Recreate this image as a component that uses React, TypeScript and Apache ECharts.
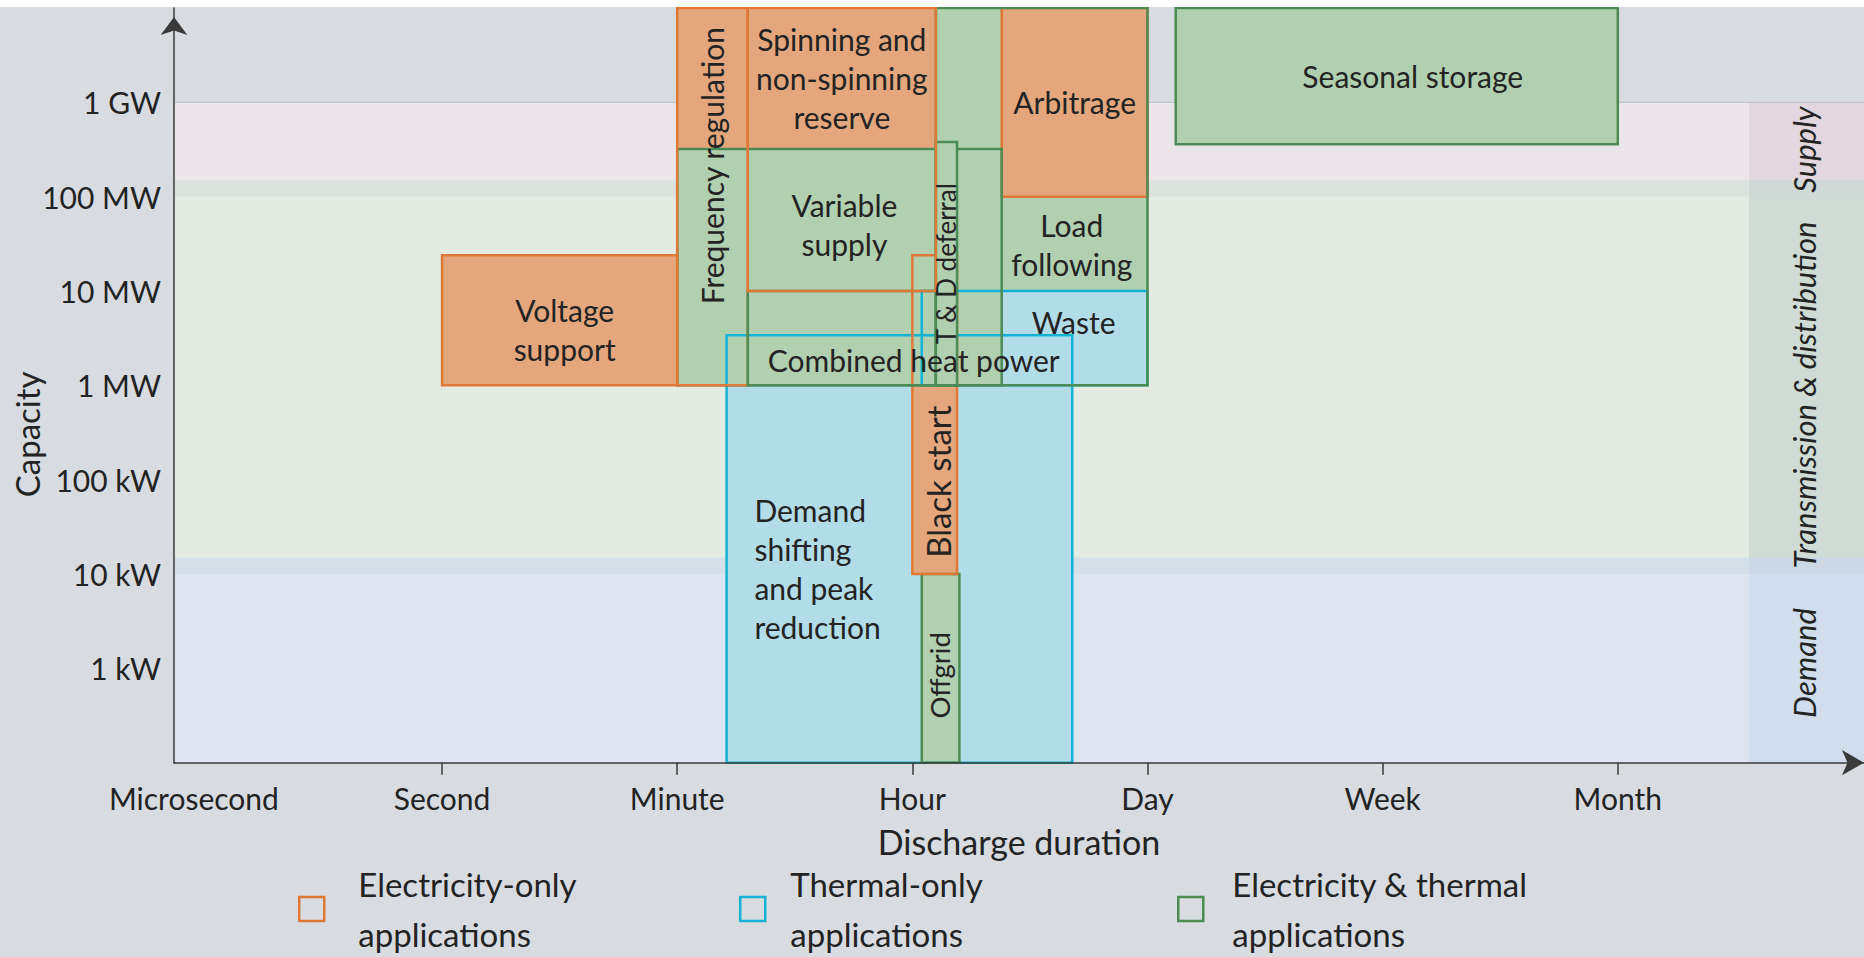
import React, { useEffect, useRef } from "react";
import * as echarts from "echarts";

// ---------- data ----------
// Discharge duration axis: tick index units (0 = Microsecond ... 6 = Month)
const DURATION_TICKS = ["Microsecond", "Second", "Minute", "Hour", "Day", "Week", "Month"];
// Capacity axis labels for 1e3 .. 1e9 W
const CAPACITY_TICKS = ["1 kW", "10 kW", "100 kW", "1 MW", "10 MW", "100 MW", "1 GW"];

const X_MIN = -0.14;
const X_MAX = 7.047;
const Y_MIN = 100;
const Y_MAX = 1e10;

const CATEGORY_NAMES = [
  "Electricity-only\napplications",
  "Thermal-only\napplications",
  "Electricity & thermal\napplications",
];

// value: [durationStart, durationEnd, capacityLow (W), capacityHigh (W)]
const ELECTRICITY_ONLY = [
  { id: "voltage", label: "Voltage\nsupport", value: [1, 2, 1e6, 2.4e7] },
  { id: "freq", label: "Frequency regulation", value: [2, 2.3, 1e6, 1e10] },
  { id: "spin", label: "Spinning and\nnon-spinning\nreserve", value: [2.3, 3.1, 1e7, 1e10] },
  { id: "arbitrage", label: "Arbitrage", value: [3.38, 4, 1e8, 1e10] },
  { id: "black", label: "Black start", value: [3.0, 3.19, 1e4, 2.4e7] },
];
const THERMAL_ONLY = [
  { id: "waste", label: "Waste", value: [3.04, 4, 1e6, 1e7] },
  { id: "demand", label: "Demand\nshifting\nand peak\nreduction", value: [2.21, 3.68, 100, 3.4e6] },
];
const ELECTRICITY_THERMAL = [
  { id: "seasonal", label: "Seasonal storage", value: [4.12, 6, 3.6e8, 1e10] },
  { id: "load", label: "Load\nfollowing", value: [3.1, 4, 1e6, 1e10] },
  { id: "variable", label: "Variable\nsupply", value: [2, 3.38, 1e6, 3.2e8] },
  { id: "chp", label: "Combined heat power", value: [2.3, 3.1, 1e6, 1e7] },
  { id: "td", label: "T & D deferral", value: [3.1, 3.19, 1e6, 3.8e8] },
  { id: "offgrid", label: "Offgrid", value: [3.04, 3.2, 100, 1e4] },
];

// grid zones: [capacityLow, capacityHigh]
const ZONES = [
  { id: "supply", label: "Supply", value: [1e8, 1e9] },
  { id: "td", label: "Transmission & distribution", value: [1e4, 1.5e8] },
  { id: "demand", label: "Demand", value: [100, 1.5e4] },
];

// ---------- styles ----------
const FONT = "Lato";
const TEXT = "#232323";
const AXIS = "#3a3a3a";
const BG = "#D8DCE1";
const COLUMN_W = 115;

const PALETTE: Record<string, { fill: string; line: string }> = {
  elec: { fill: "#E4A77D", line: "#E07838" },
  thermal: { fill: "#B2DCE8", line: "#14B3D5" },
  both: { fill: "#B1D0B0", line: "#4C8C54" },
};

const ZONE_COLORS: Record<string, { main: string; col: string }> = {
  supply: { main: "#ECE6EB", col: "#E2D7DE" },
  td: { main: "#E4EBE3", col: "#D0DBD6" },
  demand: { main: "#DFE5F0", col: "#D1DDEC" },
  "supply|td": { main: "#DCE3DF", col: "#D1D9D6" },
  "td|demand": { main: "#D5DFE7", col: "#CCD9E5" },
};
const ZONE_LABEL_DY: Record<string, number> = { supply: 0, td: 18, demand: 3 };

const LAYERS: [string, "fill" | "line"][] = [
  ["seasonal", "fill"],
  ["voltage", "fill"],
  ["freq", "fill"],
  ["spin", "fill"],
  ["load", "fill"],
  ["arbitrage", "fill"],
  ["waste", "fill"],
  ["demand", "fill"],
  ["black", "fill"],
  ["variable", "fill"],
  ["chp", "fill"],
  ["offgrid", "fill"],
  ["seasonal", "line"],
  ["voltage", "line"],
  ["demand", "line"],
  ["offgrid", "line"],
  ["black", "line"],
  ["waste", "line"],
  ["arbitrage", "line"],
  ["load", "line"],
  ["variable", "line"],
  ["freq", "line"],
  ["chp", "line"],
  ["td", "fill"],
  ["td", "line"],
  ["spin", "line"],
];
const layerZ = (id: string, part: string) =>
  20 + LAYERS.findIndex((l) => l[0] === id && l[1] === part);

const LABEL_POS: Record<
  string,
  { dx: number; dy: number; rotate?: boolean; align?: string; size?: number }
> = {
  voltage: { dx: 5, dy: 9 },
  freq: { dx: 0, dy: -31, rotate: true },
  spin: { dx: 0, dy: -72 },
  arbitrage: { dx: 0, dy: 0 },
  black: { dx: 3, dy: 67, rotate: true, size: 33 },
  waste: { dx: 39, dy: -16 },
  demand: { dx: -145, dy: 20, align: "left" },
  seasonal: { dx: 16, dy: 0 },
  load: { dx: 30, dy: 48 },
  variable: { dx: 5, dy: -43 },
  chp: { dx: 72, dy: 22 },
  td: { dx: 0, dy: 0, rotate: true, size: 26 },
  offgrid: { dx: -1, dy: 7, rotate: true, size: 27.5 },
};

const LEGEND_POS = [
  { left: 298, pad: 29, color: PALETTE.elec.line },
  { left: 739, pad: 20, color: PALETTE.thermal.line },
  { left: 1177, pad: 24, color: PALETTE.both.line },
];

function rectRenderer(items: any[], kind: string) {
  return (params: any, api: any) => {
    const item = items[params.dataIndex];
    const tl = api.coord([api.value(0), api.value(3)]);
    const br = api.coord([api.value(1), api.value(2)]);
    const shape = { x: tl[0], y: tl[1], width: br[0] - tl[0], height: br[1] - tl[1] };
    const pal = PALETTE[kind];
    const lp = LABEL_POS[item.id];
    const cx = shape.x + shape.width / 2 + lp.dx;
    const cy = shape.y + shape.height / 2 + lp.dy;
    return {
      type: "group",
      children: [
        {
          type: "rect",
          z2: layerZ(item.id, "fill"),
          shape,
          style: { fill: pal.fill, stroke: "none" },
        },
        {
          type: "rect",
          z2: layerZ(item.id, "line"),
          shape,
          style: { fill: "none", stroke: pal.line, lineWidth: 2.5 },
        },
        {
          type: "text",
          z2: 200,
          x: cx,
          y: cy,
          rotation: lp.rotate ? Math.PI / 2 : 0,
          style: {
            text: item.label,
            fill: TEXT,
            fontSize: lp.size || 30,
            fontFamily: FONT,
            lineHeight: 39,
            align: lp.align || "center",
            verticalAlign: "middle",
          },
        },
      ],
    };
  };
}

function zoneRenderer(items: any[]) {
  return (params: any, api: any) => {
    const item = items[params.dataIndex];
    const cs = params.coordSys;
    const top = api.coord([0, api.value(1)])[1];
    const bottom = api.coord([0, api.value(0)])[1];
    const colX = cs.x + cs.width - COLUMN_W;
    const colors = ZONE_COLORS[item.id];
    const children: any[] = [
      {
        type: "rect",
        shape: { x: cs.x, y: top, width: colX - cs.x, height: bottom - top },
        style: { fill: colors.main },
        z2: item.overlap ? 2 : 1,
      },
      {
        type: "rect",
        shape: { x: colX, y: top, width: cs.x + cs.width - colX, height: bottom - top },
        style: { fill: colors.col },
        z2: item.overlap ? 2 : 1,
      },
    ];
    if (!item.overlap) {
      if (params.dataIndex === 0) {
        children.push({
          type: "line",
          shape: { x1: cs.x, y1: top, x2: cs.x + cs.width, y2: top },
          style: { stroke: "#C3C6CB", lineWidth: 1.2 },
          z2: 3,
        });
      }
      children.push({
        type: "text",
        x: colX + COLUMN_W / 2 - 3,
        y: (top + bottom) / 2 + ZONE_LABEL_DY[item.id],
        rotation: Math.PI / 2,
        z2: 4,
        style: {
          text: item.label,
          fill: TEXT,
          fontSize: 31,
          fontFamily: FONT,
          fontStyle: "italic",
          align: "center",
          verticalAlign: "middle",
        },
      });
    }
    return { type: "group", children };
  };
}

export default function App() {
  const ref = useRef<HTMLDivElement>(null);
  useEffect(() => {
    if (!ref.current) return;
    const chart = echarts.init(ref.current, undefined, { renderer: "svg" });

    const overlaps = ZONES.slice(0, -1).map((z, i) => {
      const n = ZONES[i + 1];
      return {
        id: z.id + "|" + n.id,
        label: "",
        overlap: true,
        value: [Math.max(z.value[0], n.value[0]), Math.min(z.value[1], n.value[1])],
      };
    });
    const zoneItems = [...ZONES.map((z) => ({ ...z, overlap: false })), ...overlaps];

    const groups = [
      { name: CATEGORY_NAMES[0], items: ELECTRICITY_ONLY, kind: "elec" },
      { name: CATEGORY_NAMES[1], items: THERMAL_ONLY, kind: "thermal" },
      { name: CATEGORY_NAMES[2], items: ELECTRICITY_THERMAL, kind: "both" },
    ];

    const option: any = {
      animation: false,
      backgroundColor: BG,
      textStyle: { fontFamily: FONT },
      grid: {
        left: 174,
        right: 0,
        top: 1,
        bottom: 194.3,
        containLabel: false,
        outerBoundsMode: "none",
      },
      xAxis: {
        type: "value",
        min: X_MIN,
        max: X_MAX,
        z: 10,
        name: "Discharge duration",
        nameLocation: "middle",
        nameGap: 59,
        nameMoveOverlap: false,
        nameTextStyle: { fontSize: 34, color: TEXT, lineHeight: 40, fontFamily: FONT },
        axisLine: {
          show: true,
          onZero: false,
          symbol: ["none", "arrow"],
          symbolSize: [19, 22],
          lineStyle: { color: AXIS, width: 1.5 },
        },
        axisTick: {
          show: true,
          length: 12,
          customValues: [1, 2, 3, 4, 5, 6],
          lineStyle: { color: AXIS, width: 1.5 },
        },
        axisLabel: {
          customValues: [0, 1, 2, 3, 4, 5, 6],
          formatter: (v: number) => {
            const i = Math.round(v);
            const t = DURATION_TICKS[i] || "";
            return i === 0 ? "{m|" + t + "}" : t;
          },
          margin: 17,
          fontSize: 30,
          lineHeight: 36,
          color: TEXT,
          fontFamily: FONT,
          rich: { m: { fontSize: 30, fontFamily: FONT, color: TEXT, padding: [0, 26, 0, 0] } },
        },
        splitLine: { show: false },
      },
      yAxis: {
        type: "log",
        logBase: 10,
        min: Y_MIN,
        max: Y_MAX,
        splitNumber: 8,
        z: 10,
        name: "Capacity",
        nameLocation: "middle",
        nameGap: 127,
        nameMoveOverlap: false,
        nameTextStyle: {
          fontSize: 33,
          color: TEXT,
          lineHeight: 40,
          fontFamily: FONT,
          padding: [0, 98, 0, 0],
        },
        axisLine: {
          show: true,
          onZero: false,
          symbol: ["none", "arrow"],
          symbolSize: [20, 18],
          symbolOffset: [0, -9],
          lineStyle: { color: AXIS, width: 1.5 },
        },
        axisTick: { show: false },
        axisLabel: {
          formatter: (v: number) => {
            const e = Math.round(Math.log10(v));
            return CAPACITY_TICKS[e - 3] || "";
          },
          margin: 13,
          fontSize: 30,
          color: TEXT,
          fontFamily: FONT,
        },
        splitLine: { show: false },
      },
      legend: groups.map((g, i) => ({
        data: [
          {
            name: g.name,
            icon: "rect",
            itemStyle: { color: "rgba(0,0,0,0)", borderColor: LEGEND_POS[i].color, borderWidth: 2.5 },
          },
        ],
        left: LEGEND_POS[i].left,
        top: 852,
        padding: 0,
        itemWidth: 25,
        itemHeight: 24,
        textStyle: {
          fontSize: 33,
          lineHeight: 50,
          color: TEXT,
          fontFamily: FONT,
          padding: [0, 0, 0, LEGEND_POS[i].pad],
        },
      })),
      series: [
        {
          type: "custom",
          name: "zones",
          z: 1,
          silent: true,
          renderItem: zoneRenderer(zoneItems),
          encode: { y: [0, 1] },
          data: zoneItems.map((z) => ({ name: z.label, value: z.value })),
        },
        ...groups.map((g) => ({
          type: "custom",
          name: g.name,
          z: 2,
          silent: true,
          itemStyle: { color: PALETTE[g.kind].fill, borderColor: PALETTE[g.kind].line },
          renderItem: rectRenderer(g.items, g.kind),
          encode: { x: [0, 1], y: [2, 3] },
          data: g.items.map((it) => ({ name: it.label, value: it.value })),
        })),
      ],
    };
    chart.setOption(option);
    return () => chart.dispose();
  }, []);

  return (
    <div style={{ position: "fixed", left: 0, top: 0, width: 1864, height: 957, background: "#fff" }}>
      <div ref={ref} style={{ position: "absolute", left: 0, top: 7, width: 1864, height: 950 }} />
    </div>
  );
}
